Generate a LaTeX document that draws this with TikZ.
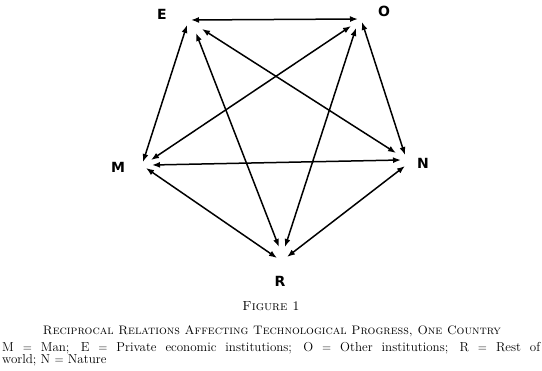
\documentclass[tikz,border=0pt]{standalone}
\usepackage{fontspec}
\usetikzlibrary{arrows.meta}
\newfontfamily\lblfont{DejaVu Sans}
\begin{document}
\begin{tikzpicture}[x=1pt,y=-1pt,
  biarrow/.style={line width=1.5pt,{Latex[length=8pt,width=6pt]}-{Latex[length=8pt,width=6pt]}},
  vlabel/.style={font=\lblfont\bfseries\fontsize{14}{16}\selectfont, inner sep=0pt}]
\useasboundingbox (0,0) rectangle (542,371);
% vertex labels
\node[vlabel] (E) at (162,14) {E};
\node[vlabel] (O) at (384,11) {O};
\node[vlabel] (M) at (118,167) {M};
\node[vlabel] (N) at (423,163) {N};
\node[vlabel] (R) at (280,281) {R};
% connector ends
\coordinate (e-o) at (191,20);  \coordinate (o-e) at (358,19);
\coordinate (e-m) at (187,25);  \coordinate (m-e) at (143,162);
\coordinate (e-r) at (196,33);  \coordinate (r-e) at (279,247);
\coordinate (e-n) at (202,29);  \coordinate (n-e) at (396,153);
\coordinate (o-m) at (351,26);  \coordinate (m-o) at (151,160);
\coordinate (o-r) at (356,28);  \coordinate (r-o) at (285,247);
\coordinate (o-n) at (362,22);  \coordinate (n-o) at (405,155);
\coordinate (m-n) at (152,165); \coordinate (n-m) at (401,160);
\coordinate (m-r) at (146,168); \coordinate (r-m) at (277,258);
\coordinate (n-r) at (405,166); \coordinate (r-n) at (287,257);
% connectors
\draw[biarrow] (e-o) -- (o-e);
\draw[biarrow] (e-m) -- (m-e);
\draw[biarrow] (e-r) -- (r-e);
\draw[biarrow] (e-n) -- (n-e);
\draw[biarrow] (o-m) -- (m-o);
\draw[biarrow] (o-r) -- (r-o);
\draw[biarrow] (o-n) -- (n-o);
\draw[biarrow] (m-n) -- (n-m);
\draw[biarrow] (m-r) -- (r-m);
\draw[biarrow] (n-r) -- (r-n);
% caption
\node[anchor=base, inner sep=0pt] (fig) at (271,311) {\resizebox{57pt}{!}{\fontsize{10}{12}\selectfont\textsc{Figure 1}}};
\node[anchor=base, inner sep=0pt] (title) at (272,335) {\resizebox{458pt}{!}{\fontsize{10}{12}\selectfont\textsc{Reciprocal Relations Affecting Technological Progress, One Country}}};
\node[anchor=base west, inner sep=0pt] (leg1) at (2,352) {\fontsize{13}{14}\selectfont\makebox[538pt][s]{M $=$ Man; E $=$ Private economic institutions; O $=$ Other institutions; R $=$ Rest of}};
\node[anchor=base west, inner sep=0pt] (leg2) at (2,364) {\fontsize{13}{14}\selectfont world; N $=$ Nature};
\end{tikzpicture}
\end{document}
